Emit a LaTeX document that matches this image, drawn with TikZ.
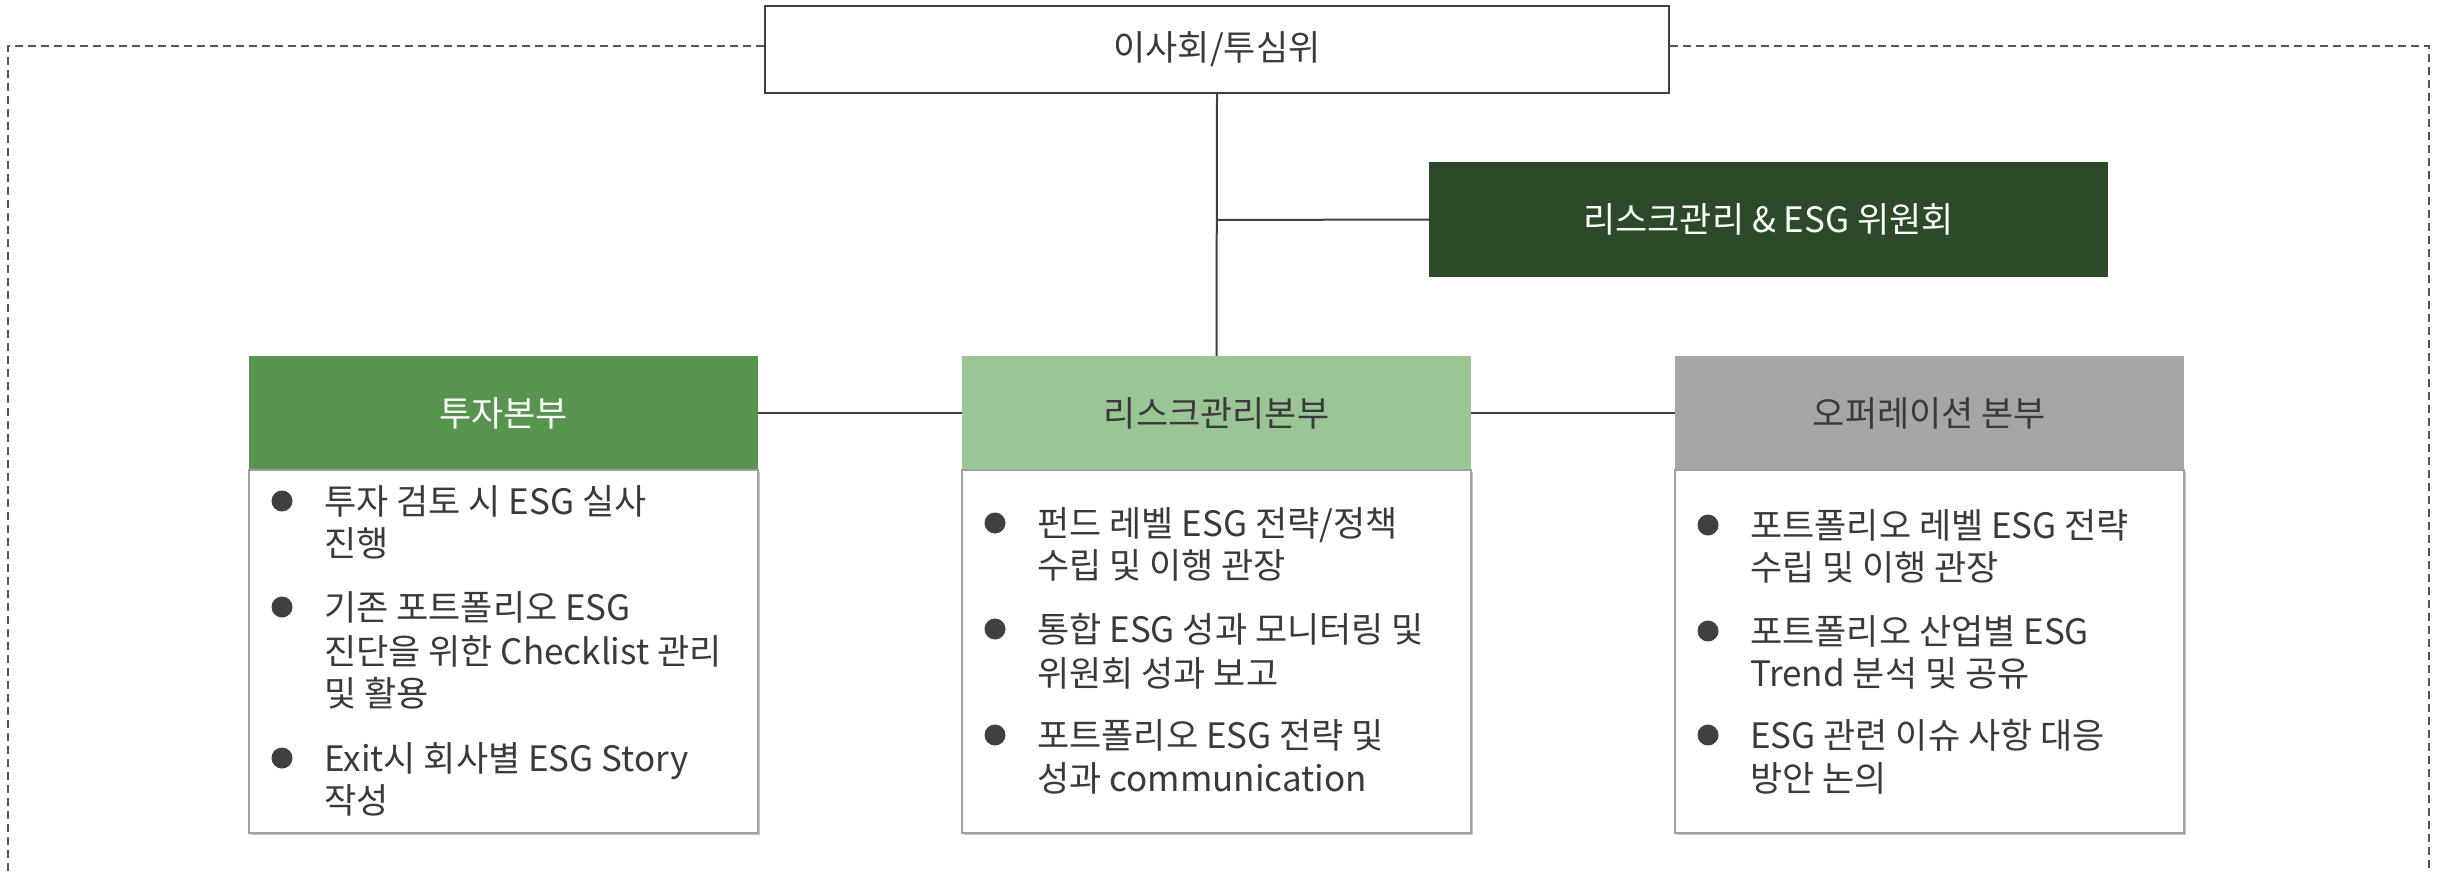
\documentclass[tikz,border=0pt]{standalone}
\usepackage{fontspec}
\setmainfont{Noto Sans CJK KR}
\definecolor{linegray}{HTML}{404040}
\definecolor{txtgray}{HTML}{3A3A3A}
\definecolor{hgreen}{HTML}{58944F}
\definecolor{hlight}{HTML}{9AC594}
\definecolor{hgray}{HTML}{A6A6A6}
\definecolor{hdark}{HTML}{2C4A29}
\definecolor{bordgray}{HTML}{A0A0A0}
\definecolor{framegray}{HTML}{555555}
\begin{document}
\begin{tikzpicture}[x=1pt,y=-1pt,
  conn/.style={draw=linegray, line width=2pt},
  boxbase/.style={rectangle, inner sep=0pt, font=\fontsize{35}{42}\selectfont},
  head/.style={boxbase, minimum width=509pt, minimum height=114pt},
  body/.style={rectangle, draw=bordgray, line width=2.2pt, fill=white, minimum width=509pt, minimum height=363pt},
  shadowbox/.style={rectangle, fill=black!22, minimum width=509pt, minimum height=363pt},
  dot/.style={circle, fill=linegray, inner sep=0pt, minimum size=21pt},
  ln/.style={anchor=base west, inner sep=0pt, text=txtgray, font=\fontsize{35}{42}\selectfont},
  frame/.style={draw=framegray, line width=2pt, dash pattern=on 8pt off 5pt}
]
\useasboundingbox (0,0) rectangle (2441,872);

% dashed frame
\coordinate (fl) at (764,46);
\coordinate (fr) at (1670,46);
\coordinate (ftl) at (8,46);
\coordinate (ftr) at (2429,46);
\coordinate (fbl) at (8,890);
\coordinate (fbr) at (2429,890);
\draw[frame] (fl) -- (ftl) -- (fbl);
\draw[frame] (fr) -- (ftr) -- (fbr);

% top box
\node[boxbase, draw=linegray, line width=2pt, fill=white, minimum width=904pt, minimum height=87pt, text=txtgray] (top) at (1217,49.5) {이사회/투심위};

% committee
\node[boxbase, fill=hdark, minimum width=679pt, minimum height=115pt, text=white] (comm) at (1768.5,219.5) {리스크관리 \& ESG 위원회};

% headers
\node[head, fill=hgreen, text=white] (hL) at (503.5,413) {투자본부};
\node[head, fill=hlight, text=txtgray] (hM) at (1216.5,413) {리스크관리본부};
\node[head, fill=hgray, text=txtgray] (hR) at (1929.5,413) {오퍼레이션 본부};

% connectors
\draw[conn] (top.south) -- (hM.north);
\coordinate (cj) at (1216.5,220);
\draw[conn] (cj) -- (comm.west);
\draw[conn] (hL.east) -- (hM.west);
\draw[conn] (hM.east) -- (hR.west);

% bodies
\node[shadowbox] (sL) at (505.5,653.5) {};
\node[shadowbox] (sM) at (1218.5,653.5) {};
\node[shadowbox] (sR) at (1931.5,653.5) {};
\node[body] (bL) at (503.5,651.5) {};
\node[body] (bM) at (1216.5,651.5) {};
\node[body] (bR) at (1929.5,651.5) {};

% left items
\node[dot] (dL1) at (282,501) {};
\node[ln] (L1a) at (324,514) {투자 검토 시 ESG 실사};
\node[ln] (L1b) at (324,556) {진행};
\node[dot] (dL2) at (282,607) {};
\node[ln] (L2a) at (324,620) {기존 포트폴리오 ESG};
\node[ln] (L2b) at (324,664) {진단을 위한 Checklist 관리};
\node[ln] (L2c) at (324,706) {및 활용};
\node[dot] (dL3) at (282,758) {};
\node[ln] (L3a) at (324,771) {Exit시 회사별 ESG Story};
\node[ln] (L3b) at (324,813) {작성};

% middle items
\node[dot] (dM1) at (995,523) {};
\node[ln] (M1a) at (1037,536) {펀드 레벨 ESG 전략/정책};
\node[ln] (M1b) at (1037,578) {수립 및 이행 관장};
\node[dot] (dM2) at (995,629) {};
\node[ln] (M2a) at (1037,642) {통합 ESG 성과 모니터링 및};
\node[ln] (M2b) at (1037,686) {위원회 성과 보고};
\node[dot] (dM3) at (995,735) {};
\node[ln] (M3a) at (1037,748) {포트폴리오 ESG 전략 및};
\node[ln] (M3b) at (1037,791) {성과 communication};

% right items
\node[dot] (dR1) at (1708,525) {};
\node[ln] (R1a) at (1750,538) {포트폴리오 레벨 ESG 전략};
\node[ln] (R1b) at (1750,580) {수립 및 이행 관장};
\node[dot] (dR2) at (1708,631) {};
\node[ln] (R2a) at (1750,644) {포트폴리오 산업별 ESG};
\node[ln] (R2b) at (1750,686) {Trend 분석 및 공유};
\node[dot] (dR3) at (1708,735) {};
\node[ln] (R3a) at (1750,748) {ESG 관련 이슈 사항 대응};
\node[ln] (R3b) at (1750,791) {방안 논의};
\end{tikzpicture}
\end{document}
